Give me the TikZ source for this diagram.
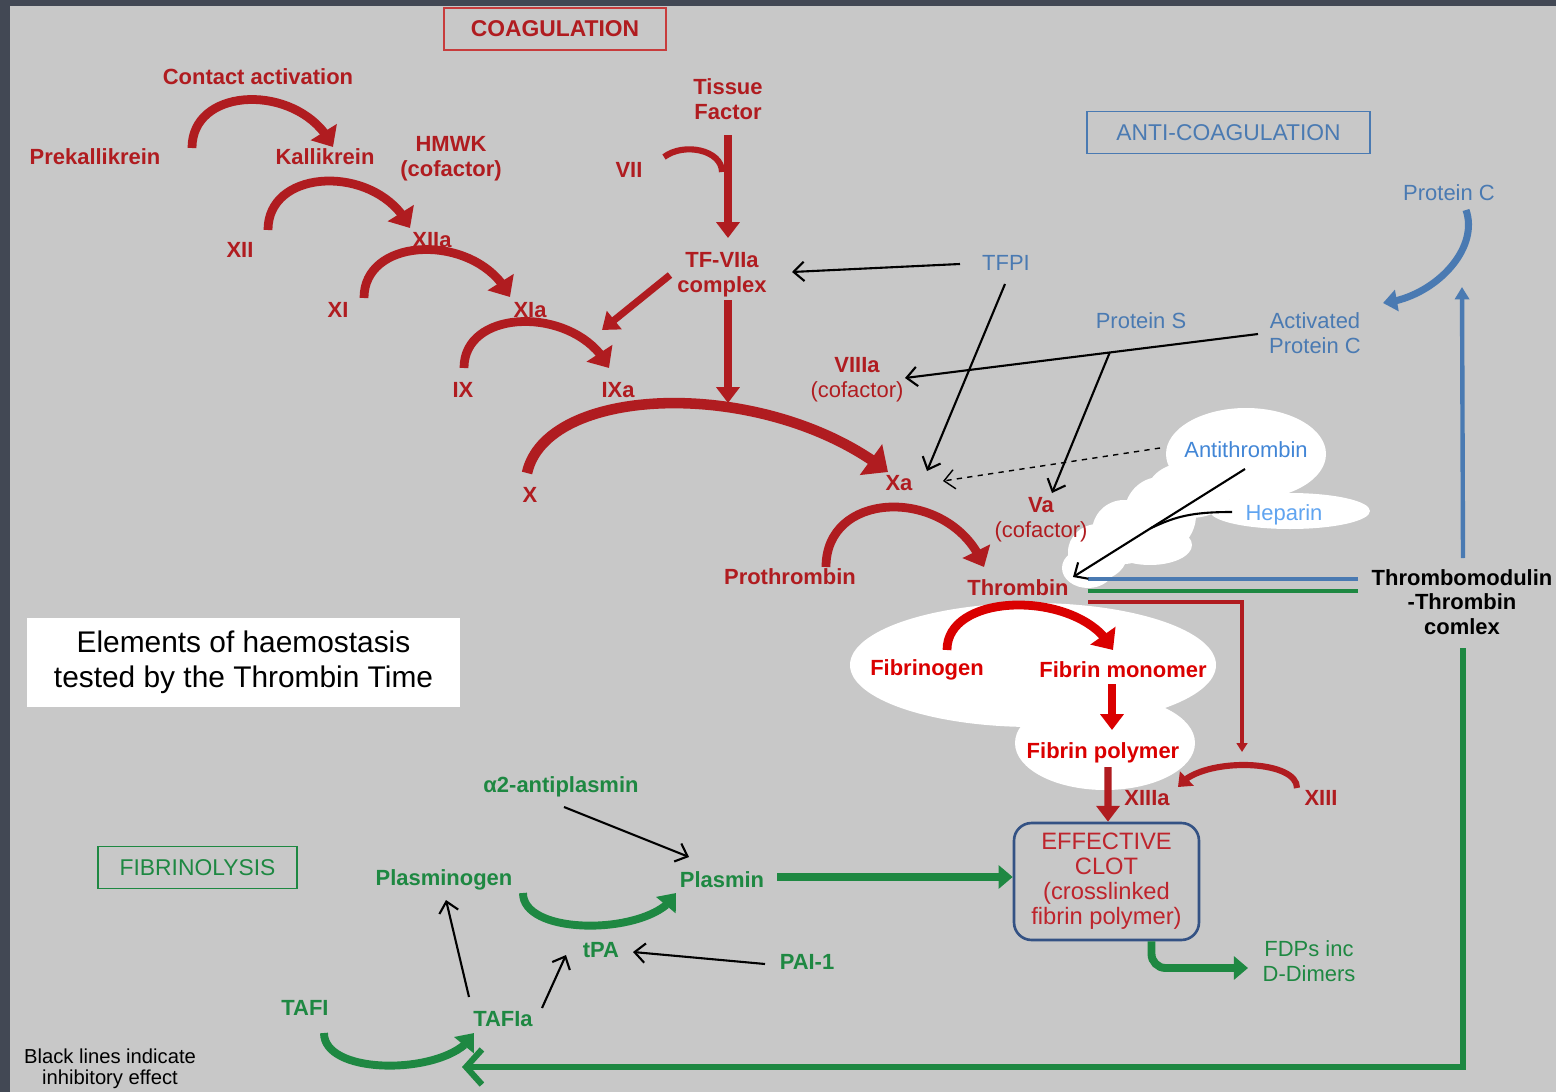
\documentclass[tikz,border=0pt]{standalone}
\usepackage{fontspec}
\setmainfont{Liberation Sans}
\usetikzlibrary{calc,arrows.meta,bending,positioning}

\definecolor{edgegray}{RGB}{66,72,84}
\definecolor{bggray}{RGB}{200,200,200}
\definecolor{coagred}{RGB}{176,28,32}
\definecolor{coagbox}{RGB}{200,60,60}
\definecolor{brightred}{RGB}{218,0,0}
\definecolor{clotred}{RGB}{190,36,44}
\definecolor{antiblue}{RGB}{74,122,178}
\definecolor{atblue}{RGB}{66,134,214}
\definecolor{hepblue}{RGB}{96,164,240}
\definecolor{clotblue}{RGB}{52,82,132}
\definecolor{fibgreen}{RGB}{30,136,66}

\newcommand{\labfont}{\fontsize{12.5}{14}\selectfont}
\newcommand{\ttlfont}{\fontsize{13}{15}\selectfont}

\tikzstyle{coag}     = [inner sep=1pt, align=center, text=coagred, font=\labfont\bfseries]
\tikzstyle{fibrin}   = [coag, text=brightred]
\tikzstyle{anti}     = [inner sep=1pt, align=center, text=antiblue, font=\labfont]
\tikzstyle{fib}      = [inner sep=1pt, align=center, text=fibgreen, font=\labfont\bfseries]
\tikzstyle{titlebox} = [draw, line width=0.8pt, minimum height=0.84cm, font=\ttlfont]
\tikzstyle{react}    = [draw=coagred, line width=5pt, -{Triangle[width=17pt,length=10pt]}]
\tikzstyle{push}     = [draw=coagred, line width=4pt, -{Triangle[width=13pt,length=9pt]}]
\tikzstyle{fibarc}   = [draw=fibgreen, line width=4.5pt, -{Triangle[width=14pt,length=9pt]}]
\tikzstyle{fibpush}  = [draw=fibgreen, line width=4.5pt, -{Triangle[width=13pt,length=8pt]}]
\tikzstyle{inhib}    = [draw=black, line width=1.2pt, -{Straight Barb[length=6pt,width=11pt]}]
\tikzstyle{puff}     = [fill=white]

\begin{document}
\begin{tikzpicture}[x=0.02cm, y=-0.02cm]
	\useasboundingbox (0,0) rectangle (1556,1092);
	\fill[edgegray] (0,0) rectangle (1556,1092);
	\fill[bggray] (10,6) rectangle (1556,1092);

	% white clouds
	\fill[puff] (1033,665) ellipse [x radius=183, y radius=62];
	\fill[puff] (1105,743) ellipse [x radius=90, y radius=47];
	\fill[puff] (1246,454) ellipse [x radius=80, y radius=46];
	\fill[puff] (1290,511) ellipse [x radius=80, y radius=18];
	\fill[puff] (1190,490) ellipse [x radius=42, y radius=28];
	\fill[puff] (1160,515) ellipse [x radius=36, y radius=38];
	\fill[puff] (1124,532) ellipse [x radius=32, y radius=32];
	\fill[puff] (1150,545) ellipse [x radius=42, y radius=20];
	\fill[puff] (1098,552) ellipse [x radius=30, y radius=28];
	\fill[puff] (1088,568) ellipse [x radius=26, y radius=20];

	% titles
	\node[titlebox, draw=coagbox, text=coagred, font=\ttlfont\bfseries, minimum width=4.44cm] (coagt) at (555,29) {COAGULATION};
	\node[titlebox, draw=antiblue, text=antiblue, minimum width=5.66cm] (antit) at (1228.5,132.5) {ANTI-COAGULATION};
	\node[titlebox, draw=fibgreen, text=fibgreen, minimum width=3.98cm] (fibt) at (197.5,867.5) {FIBRINOLYSIS};
	\node[fill=white, minimum width=8.66cm, minimum height=1.78cm, align=center,
		font=\fontsize{17}{20}\selectfont] (ttbox) at (243.5,662.5) {Elements of haemostasis\\tested by the Thrombin Time};
	\node[align=center, font=\fontsize{11.5}{12}\selectfont] (note) at (110,1069) {Black lines indicate\\inhibitory effect};

	% coagulation
	\node[coag] (contact) at (258,77) {Contact activation};
	\node[coag] (pk) at (95,157) {Prekallikrein};
	\node[coag] (kal) at (325,157) {Kallikrein};
	\node[coag] (hmwk) at (451,159) {HMWK\\(cofactor)};
	\node[coag] (xii) at (240,250) {XII};
	\node[coag] (xiia) at (432,240) {XIIa};
	\node[coag] (xi) at (338,310) {XI};
	\node[coag] (xia) at (530,310) {XIa};
	\node[coag] (ix) at (463,390) {IX};
	\node[coag] (ixa) at (618,390) {IXa};
	\node[coag] (fx) at (530,495) {X};
	\node[coag] (fxa) at (899,483) {Xa};
	\node[coag] (tf) at (728,99) {Tissue\\Factor};
	\node[coag] (vii) at (629,170) {VII};
	\node[coag] (tfvii) at (722,275) {TF-VIIa\\complex};
	\node[coag] (viiia) at (857,380) {VIIIa\\{\mdseries(cofactor)}};
	\node[coag] (va) at (1041,520) {Va\\{\mdseries(cofactor)}};
	\node[coag] (proth) at (790,577) {Prothrombin};
	\node[coag] (thr) at (1018,588) {Thrombin};
	\node[fibrin] (fbg) at (927,670) {Fibrinogen};
	\node[fibrin] (fmono) at (1123,670) {Fibrin monomer};
	\node[fibrin] (fpoly) at (1103,753) {Fibrin polymer};
	\node[coag] (xiiia) at (1147,798) {XIIIa};
	\node[coag] (xiii) at (1321,798) {XIII};
	\node[draw=clotblue, line width=1.5pt, rounded corners=10pt, minimum width=3.7cm, minimum height=2.34cm,
		align=center, text=clotred, font=\fontsize{13.5}{14.2}\selectfont] (clot) at (1106.5,881.5)
		{EFFECTIVE\\CLOT\\(crosslinked\\fibrin polymer)};

	% anti-coagulation
	\node[anti] (tfpi) at (1006,263) {TFPI};
	\node[anti] (protc) at (1449,193) {Protein C};
	\node[anti] (prots) at (1141,321) {Protein S};
	\node[anti] (apc) at (1315,333) {Activated\\Protein C};
	\node[anti, text=atblue] (at) at (1246,450) {Antithrombin};
	\node[anti, text=hepblue] (hep) at (1284,515) {Heparin};
	\node[inner sep=1pt, align=center, font=\labfont\bfseries] (tmc) at (1462,602) {Thrombomodulin\\-Thrombin\\comlex};

	% fibrinolysis
	\node[fib] (a2ap) at (561,787) {α2-antiplasmin};
	\node[fib] (plg) at (444,880) {Plasminogen};
	\node[fib] (pls) at (722,880) {Plasmin};
	\node[fib] (tpa) at (601,950) {tPA};
	\node[fib] (pai) at (807,962) {PAI-1};
	\node[fib] (tafi) at (305,1008) {TAFI};
	\node[fib] (tafia) at (503,1019) {TAFIa};
	\node[fib, font=\labfont] (fdp) at (1309,961) {FDPs inc\\D-Dimers};

	% cascade arcs
	\draw[react] ($(pk)+(97,-9)$) .. controls +(0,-64) and +(-30,-64) .. ($(kal)+(8,-10)$);
	\draw[react] ($(xii)+(28,-20)$) .. controls +(0,-64) and +(-30,-64) .. ($(xiia)+(-22,-12)$);
	\draw[react] ($(xi)+(26,-12)$) .. controls +(0,-64) and +(-30,-64) .. ($(xia)+(-20,-13)$);
	\draw[react] ($(ix)+(1,-22)$) .. controls +(0,-62) and +(-30,-62) .. ($(ixa)+(-9,-22)$);
	\draw[react, line width=6pt, -{Triangle[width=21pt,length=12pt]}] ($(fx)+(-3,-22)$) .. controls +(20,-90) and +(-120,-95) .. ($(fxa)+(-11,-11)$);
	\draw[react] ($(proth)+(36,-10)$) .. controls +(0,-80) and +(-30,-80) .. ($(thr)+(-34,-21)$);
	\draw[react, draw=brightred] ($(fbg)+(20,-20)$) .. controls +(0,-60) and +(-30,-60) .. ($(fmono)+(-10,-20)$);
	\draw[react, line width=3.5pt, -{Triangle[width=11pt,length=7pt]}] ($(xiii)+(-24,-10)$) .. controls +(0,-30) and +(20,-30) .. ($(xiiia)+(31,-11)$);
	\draw[coagred, line width=3.5pt] ($(vii)+(35,-13)$) .. controls +(20,-15) and +(0,-22) .. ($(tf)+(-6,73)$);

	% straight pushes
	\draw[push] ($(tf)+(0,36)$) -- ($(tfvii)+(6,-37)$);
	\draw[push] ($(tfvii)+(-52,0)$) -- ($(ixa)+(-16,-60)$);
	\draw[push] ($(tfvii)+(6,25)$) -- ++(0,103);
	\draw[push, draw=brightred] ($(fmono)+(-11,14)$) -- ($(fpoly)+(9,-23)$);
	\draw[push] ($(fpoly)+(5,14)$) -- ($(clot.north)+(1.5,0)$);
	\draw[coagred, line width=1.8pt, -{Triangle[width=6pt,length=5pt]}] ($(thr)+(70,14)$) -| ($(xiii)+(-79,-46)$);

	% thrombomodulin links
	\draw[antiblue, line width=1.8pt] ($(thr)+(70,-9)$) -- ($(tmc)+(-104,-23)$);
	\draw[fibgreen, line width=1.8pt] ($(thr)+(70,3)$) -- ($(tmc)+(-104,-11)$);
	\draw[antiblue, line width=2.5pt, -{Triangle[width=8pt,length=7pt]}] ($(tmc)+(1,-44)$) -- ($(protc)+(13,94)$);
	\draw[antiblue, line width=4pt, -{Triangle[width=12pt,length=8pt]}] ($(protc)+(17,17)$) .. controls +(14,40) and +(50,-5) .. ($(apc)+(68,-30)$);
	\draw[fibgreen, line width=3.5pt, -{Straight Barb[length=9pt,width=20pt]}] ($(tmc)+(1,46)$) |- ($(tafia)+(-41,48)$);

	% inhibitors
	\coordinate (apcs) at ($(apc)+(-57,1)$);
	\coordinate (viiiat) at ($(viiia)+(48,-2)$);
	\coordinate (ats) at ($(at)+(-1,19)$);
	\coordinate (thrt) at ($(thr)+(55,-11)$);
	\draw[inhib] ($(tfpi)+(-46,1)$) -- ($(tfvii)+(70,-3)$);
	\draw[inhib] ($(tfpi)+(-1,21)$) -- ($(fxa)+(28,-12)$);
	\draw[inhib] (apcs) -- (viiiat);
	\draw[inhib] ($(apcs)!0.42!(viiiat)$) -- ($(va)+(11,-27)$);
	\draw[inhib, dashed, line width=0.8pt] ($(at)+(-86,-2)$) -- ($(fxa)+(44,-2)$);
	\draw[inhib] (ats) -- (thrt);
	\draw[line width=1.2pt] ($(hep)+(-52,-3)$) .. controls +(-40,0) and +(25,-12) .. ($(ats)!0.55!(thrt)$);

	% fibrinolysis arrows
	\draw[fibarc] ($(plg)+(79,13)$) .. controls +(0,45) and +(-20,42) .. ($(pls)+(-46,13)$);
	\draw[fibarc] ($(tafi)+(19,25)$) .. controls +(0,45) and +(-20,42) .. ($(tafia)+(-29,14)$);
	\draw[fibpush] ($(pls)+(55,-3)$) -- ($(clot.west)+(0,-4.5)$);
	\draw[fibpush, rounded corners=8pt] ($(clot.south)+(45,0)$) |- ($(fdp)+(-61,7)$);
	\draw[inhib] ($(a2ap)+(3,20)$) -- ($(pls)+(-33,-23)$);
	\draw[inhib] ($(pai)+(-42,2)$) -- ($(tpa)+(32,2)$);
	\draw[inhib] ($(tafia)+(-34,-22)$) -- ($(plg)+(2,20)$);
	\draw[inhib] ($(tafia)+(39,-11)$) -- ($(tpa)+(-35,5)$);
\end{tikzpicture}
\end{document}
